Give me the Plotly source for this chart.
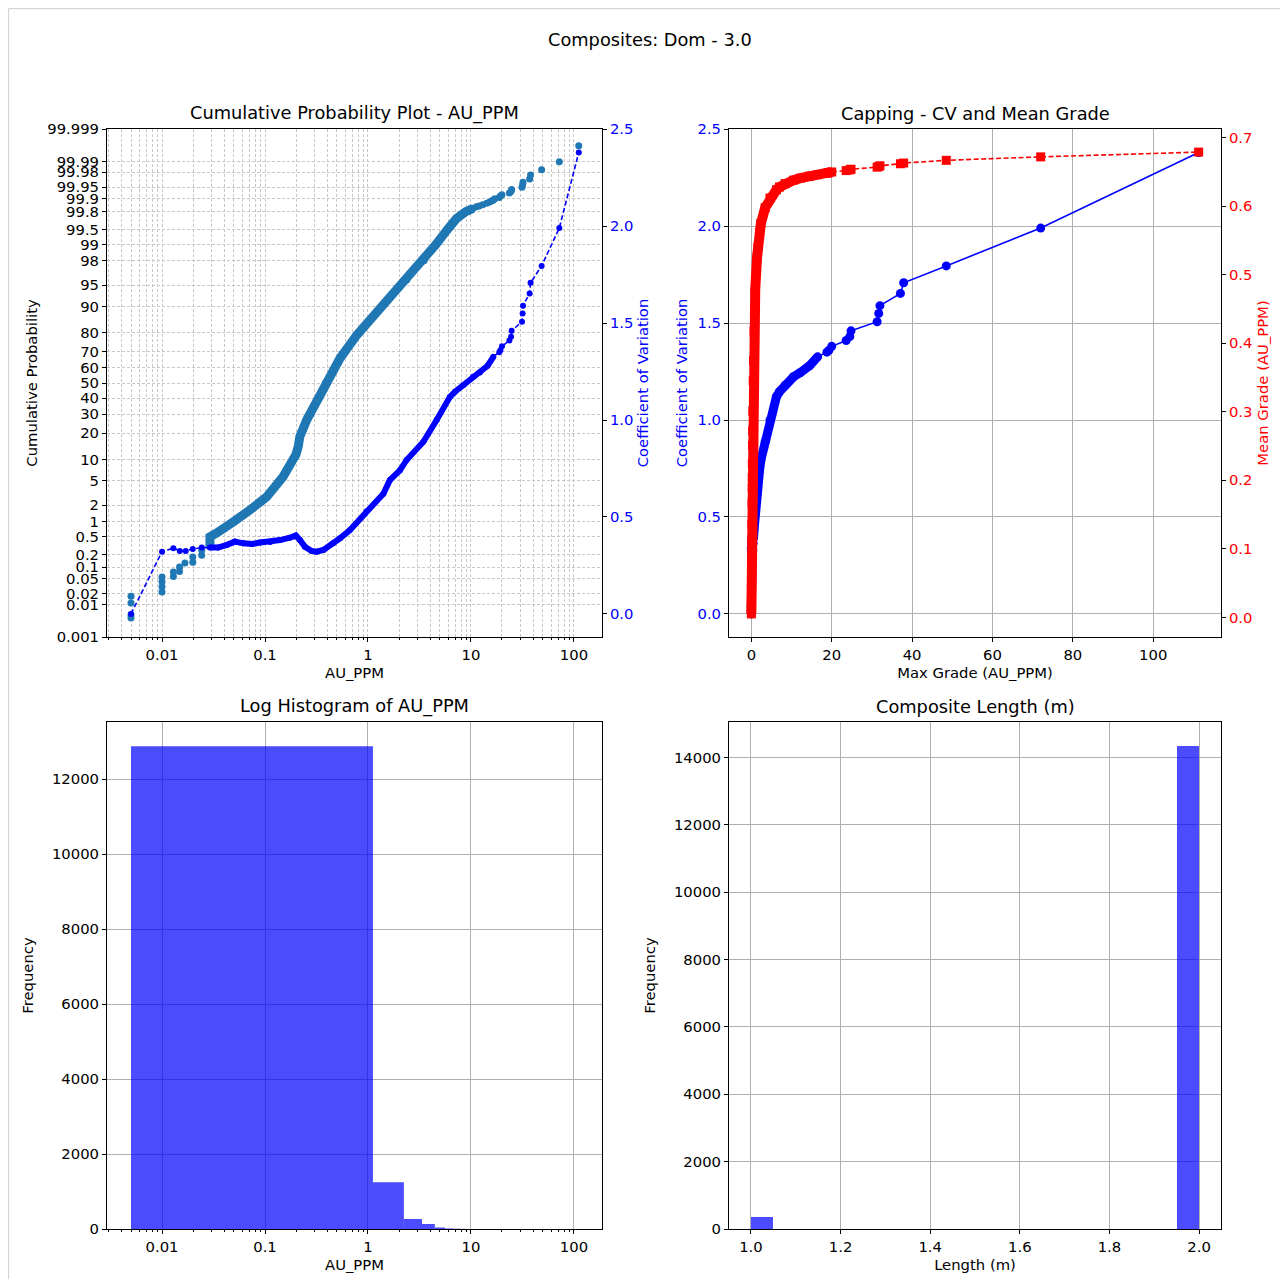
import plotly.graph_objects as go
from statistics import NormalDist

# ---------------- data ----------------
# Cumulative probability plot: sorted sample grade (AU_PPM) and cumulative probability (%)
prob_grade = [0.005, 0.005, 0.005, 0.005,
              0.01, 0.01, 0.01, 0.01,
              0.0129, 0.0129, 0.0148, 0.0148, 0.0167, 0.0199, 0.0199,
              0.0243, 0.0243, 0.0292, 0.0292, 0.0292,
              0.034, 0.040, 0.049, 0.0715, 0.104, 0.15, 0.188, 0.2, 0.21, 0.218,
              0.254, 0.32, 0.386, 0.535, 0.78, 1.127, 1.25, 2.04, 2.37, 3.5, 4.0,
              4.57, 5.9, 6.25, 7.26, 8.9, 10.5, 11.3, 12.0, 13.0, 14.2, 15.2, 16.0,
              16.5, 17.0, 18.8, 19.3, 20.0, 23.6, 24.5, 24.8, 31.3, 31.7, 32.0,
              37.1, 37.9, 48.5, 72.0, 111.3]
prob_cum_pct = [0.004, 0.005, 0.011, 0.017,
                0.0225, 0.031, 0.042, 0.056,
                0.058, 0.075, 0.078, 0.100, 0.126, 0.13, 0.175,
                0.19, 0.25, 0.30, 0.39, 0.49,
                0.59, 0.71, 0.98, 1.65, 2.81, 5.8, 9.8, 11.5, 14.2, 18.4,
                26.7, 38.8, 50.0, 66.1, 79.0, 86.7, 88.7, 95.0, 95.8, 98.0, 98.62,
                99.0, 99.5, 99.566, 99.715, 99.8, 99.832, 99.845, 99.853, 99.862, 99.872, 99.882, 99.889,
                99.8946, 99.9014, 99.9082, 99.915, 99.9218, 99.9286, 99.9354, 99.9422, 99.949, 99.9558, 99.9626,
                99.9694, 99.9762, 99.983, 99.9898, 99.9966]

# Capping analysis: cap grade, coefficient of variation, mean grade after capping
cap_grade = [0.005, 0.01, 0.0129, 0.0149, 0.017, 0.0199, 0.0243, 0.0292, 0.0351, 0.0426,
             0.051, 0.0617, 0.0747, 0.0896, 0.1125, 0.14, 0.174, 0.199, 0.218, 0.244,
             0.283, 0.317, 0.369, 0.46, 0.535, 0.668, 0.97, 1.41, 1.63, 2.04,
             2.37, 3.45, 4.64, 6.25, 7.0, 8.4, 10.5, 12.2, 14.5, 16.5,
             18.8, 19.3, 20.0, 23.6, 24.5, 24.8, 31.3, 31.7, 32.0, 37.1,
             37.9, 48.5, 72.0, 111.3]
cap_cv = [0.0, 0.321, 0.339, 0.325, 0.325, 0.335, 0.342, 0.342, 0.342, 0.356,
          0.373, 0.364, 0.361, 0.368, 0.371, 0.381, 0.393, 0.404, 0.381, 0.347,
          0.325, 0.321, 0.33, 0.364, 0.39, 0.433, 0.53, 0.62, 0.69, 0.74,
          0.794, 0.888, 1.0, 1.12, 1.146, 1.18, 1.223, 1.245, 1.28, 1.326,
          1.35, 1.36, 1.38, 1.41, 1.43, 1.46, 1.507, 1.55, 1.59, 1.653,
          1.708, 1.795, 1.99, 2.38]
cap_mean = [0.005, 0.01, 0.0129, 0.0149, 0.017, 0.0199, 0.0243, 0.029, 0.035, 0.0425,
            0.0508, 0.0613, 0.074, 0.0885, 0.11, 0.136, 0.167, 0.189, 0.204, 0.224,
            0.251, 0.272, 0.301, 0.345, 0.375, 0.418, 0.478, 0.525, 0.54, 0.562,
            0.575, 0.598, 0.612, 0.624, 0.628, 0.633, 0.638, 0.641, 0.644, 0.646,
            0.648, 0.649, 0.650, 0.652, 0.653, 0.654, 0.657, 0.658, 0.659, 0.662,
            0.663, 0.667, 0.672, 0.679]

# Log histogram of AU_PPM (visible bins)
loghist_edges = [0.005, 1.118, 2.231, 3.344, 4.457, 5.57, 6.683, 7.796, 8.909]
loghist_counts = [12880, 1245, 267, 133, 40, 15, 8, 5]

# Composite length histogram (non-empty bins)
len_bin_left = [1.00, 1.95]
len_bin_width = 0.05
len_counts = [365, 14335]

# probability axis ticks
prob_ticks = [0.001, 0.01, 0.02, 0.05, 0.1, 0.2, 0.5, 1, 2, 5, 10, 20, 30, 40, 50,
              60, 70, 80, 90, 95, 98, 99, 99.5, 99.8, 99.9, 99.95, 99.98, 99.99, 99.999]
prob_tick_text = ["0.001", "0.01", "0.02", "0.05", "0.1", "0.2", "0.5", "1", "2", "5", "10",
                  "20", "30", "40", "50", "60", "70", "80", "90", "95", "98", "99", "99.5",
                  "99.8", "99.9", "99.95", "99.98", "99.99", "99.999"]

# ---------------- figure ----------------
# page body has an 8px margin: the figure starts at screen (8, 8)
OFF = 8
W, H = 1272, 1271
nd = NormalDist()


def probit(pct):
    return nd.inv_cdf(pct / 100.0)


def fx(p):
    return (p - OFF) / W


def fy(p):
    return 1 - (p - OFF) / H


FONT = "DejaVu Sans"
TICK = 14.8
TITLE = 17.8
SCAT = "#1f77b4"
BAR = "rgba(0,0,255,0.7)"
DASHGRID = "3px,2px"

fig = go.Figure()

# ---- top-left: cumulative probability plot ----
dense = [(g, p) for g, p in zip(prob_grade, prob_cum_pct) if 0.029 <= g <= 10.5]
fig.add_trace(go.Scatter(x=[d[0] for d in dense], y=[probit(d[1]) for d in dense],
                         mode="lines", line=dict(color=SCAT, width=9),
                         xaxis="x", yaxis="y", showlegend=False, hoverinfo="skip"))
fig.add_trace(go.Scatter(x=prob_grade, y=[probit(p) for p in prob_cum_pct],
                         mode="markers", marker=dict(color=SCAT, size=7),
                         xaxis="x", yaxis="y", showlegend=False))

cv_dense = [(g, c) for g, c in zip(cap_grade, cap_cv) if 0.029 <= g <= 17]
fig.add_trace(go.Scatter(x=[d[0] for d in cv_dense], y=[d[1] for d in cv_dense],
                         mode="lines", line=dict(color="blue", width=6),
                         xaxis="x", yaxis="y2", showlegend=False, hoverinfo="skip"))
fig.add_trace(go.Scatter(x=cap_grade, y=cap_cv, mode="lines+markers",
                         line=dict(color="blue", width=1.6, dash="5px,2.5px"),
                         marker=dict(color="blue", size=6),
                         xaxis="x", yaxis="y2", showlegend=False))

# ---- top-right: capping ----
cv_tr_dense = [(g, c) for g, c in zip(cap_grade, cap_cv) if g <= 17]
fig.add_trace(go.Scatter(x=[d[0] for d in cv_tr_dense], y=[d[1] for d in cv_tr_dense],
                         mode="lines", line=dict(color="blue", width=9),
                         xaxis="x2", yaxis="y3", showlegend=False, hoverinfo="skip"))
fig.add_trace(go.Scatter(x=cap_grade, y=cap_cv, mode="lines+markers",
                         line=dict(color="blue", width=1.6),
                         marker=dict(color="blue", size=9),
                         xaxis="x2", yaxis="y3", showlegend=False))
mg_dense = [(g, m) for g, m in zip(cap_grade, cap_mean) if g <= 20]
fig.add_trace(go.Scatter(x=[d[0] for d in mg_dense], y=[d[1] for d in mg_dense],
                         mode="lines", line=dict(color="red", width=10),
                         xaxis="x2", yaxis="y4", showlegend=False, hoverinfo="skip"))
fig.add_trace(go.Scatter(x=cap_grade, y=cap_mean, mode="lines+markers",
                         line=dict(color="red", width=1.6, dash="5px,2.5px"),
                         marker=dict(color="red", size=9, symbol="square"),
                         xaxis="x2", yaxis="y4", showlegend=False))

# ---- bottom-left: log histogram (bars drawn as filled rectangles on log axis) ----
for i, c in enumerate(loghist_counts):
    l, r = loghist_edges[i], loghist_edges[i + 1]
    fig.add_trace(go.Scatter(x=[l, l, r, r, l], y=[0, c, c, 0, 0], mode="lines",
                             fill="toself", fillcolor=BAR, line=dict(width=0, color=BAR),
                             xaxis="x3", yaxis="y5", showlegend=False))

# ---- bottom-right: composite length histogram ----
fig.add_trace(go.Bar(x=len_bin_left, y=len_counts, width=len_bin_width, offset=0,
                     marker=dict(color=BAR, line=dict(width=0)),
                     xaxis="x4", yaxis="y6", showlegend=False))

# ---------------- axes ----------------
L_dom = [fx(107), fx(602)]
R_dom = [fx(729), fx(1221)]
T_dom = [fy(637), fy(129)]
B_dom = [fy(1229), fy(722)]

common = dict(showline=True, linecolor="black", linewidth=1, mirror=True,
              ticks="outside", ticklen=4, tickcolor="black", zeroline=False,
              tickfont=dict(family=FONT, size=TICK, color="black"), automargin=False)


def minor_log(lo, hi):
    vals = []
    for d in range(-3, 3):
        for m in range(2, 10):
            v = m * 10 ** d
            if lo <= v <= hi:
                vals.append(v)
    return vals


dec_vals = [0.01, 0.1, 1, 10, 100]
dec_text = ["0.01", "0.1", "1", "10", "100"]
minor_vals = minor_log(0.0029, 187)
cv_ticks = [0, 0.5, 1.0, 1.5, 2.0, 2.5]
cv_text = ["0.0", "0.5", "1.0", "1.5", "2.0", "2.5"]
f5 = [0, 2000, 4000, 6000, 8000, 10000, 12000]
f6 = [0, 2000, 4000, 6000, 8000, 10000, 12000, 14000]
LBL = dict(family=FONT, size=TICK, color="black")

fig.update_layout(
    width=W, height=H, margin=dict(l=0, r=0, t=0, b=0),
    paper_bgcolor="white", plot_bgcolor="white",
    font=dict(family=FONT, size=TICK, color="black"),
    xaxis=dict(common, type="log", domain=L_dom, anchor="y", range=[-2.534, 2.272],
               tickmode="array", tickvals=dec_vals, ticktext=dec_text,
               showgrid=True, gridcolor="#c8c8c8", griddash=DASHGRID, gridwidth=0.8,
               minor=dict(tickmode="array", tickvals=minor_vals, ticks="outside", ticklen=2,
                          tickcolor="black", showgrid=True, gridcolor="#c8c8c8",
                          griddash=DASHGRID, gridwidth=0.8),
               title=dict(text="AU_PPM", font=LBL, standoff=5)),
    yaxis=dict(common, domain=T_dom, anchor="x", range=[probit(0.001), probit(99.999)],
               tickmode="array", tickvals=[probit(p) for p in prob_ticks], ticktext=prob_tick_text,
               showgrid=True, gridcolor="#c8c8c8", griddash=DASHGRID, gridwidth=0.8,
               title=dict(text="Cumulative Probability", font=LBL, standoff=6)),
    yaxis2=dict(common, overlaying="y", side="right", anchor="x", range=[-0.119, 2.501],
                mirror=False, tickmode="array", tickvals=cv_ticks, ticktext=cv_text,
                tickfont=dict(family=FONT, size=TICK, color="blue"), showgrid=False,
                title=dict(text="Coefficient of Variation", font=dict(family=FONT, size=TICK, color="blue"),
                           standoff=4)),
    xaxis2=dict(common, domain=R_dom, anchor="y3", range=[-5.56, 116.86],
                tickmode="array", tickvals=[0, 20, 40, 60, 80, 100],
                showgrid=True, gridcolor="#b0b0b0", gridwidth=0.8,
                title=dict(text="Max Grade (AU_PPM)", font=LBL, standoff=5)),
    yaxis3=dict(common, domain=T_dom, anchor="x2", range=[-0.119, 2.501], mirror=False,
                tickmode="array", tickvals=cv_ticks, ticktext=cv_text,
                tickfont=dict(family=FONT, size=TICK, color="blue"),
                showgrid=True, gridcolor="#b0b0b0", gridwidth=0.8,
                title=dict(text="Coefficient of Variation", font=dict(family=FONT, size=TICK, color="blue"),
                           standoff=6)),
    yaxis4=dict(common, overlaying="y3", side="right", anchor="x2", range=[-0.0287, 0.7127],
                mirror=False,
                tickmode="array", tickvals=[0, 0.1, 0.2, 0.3, 0.4, 0.5, 0.6, 0.7],
                ticktext=["0.0", "0.1", "0.2", "0.3", "0.4", "0.5", "0.6", "0.7"],
                tickfont=dict(family=FONT, size=TICK, color="red"), showgrid=False,
                title=dict(text="Mean Grade (AU_PPM)", font=dict(family=FONT, size=TICK, color="red"),
                           standoff=6)),
    xaxis3=dict(common, type="log", domain=L_dom, anchor="y5", range=[-2.534, 2.272],
                tickmode="array", tickvals=dec_vals, ticktext=dec_text,
                showgrid=True, gridcolor="#b0b0b0", gridwidth=0.8,
                minor=dict(tickmode="array", tickvals=minor_vals, ticks="outside", ticklen=2,
                           tickcolor="black", showgrid=False),
                title=dict(text="AU_PPM", font=LBL, standoff=5)),
    yaxis5=dict(common, domain=B_dom, anchor="x3", range=[0, 13524],
                tickmode="array", tickvals=f5, ticktext=[str(v) for v in f5],
                showgrid=True, gridcolor="#b0b0b0", gridwidth=0.8,
                title=dict(text="Frequency", font=LBL, standoff=14)),
    xaxis4=dict(common, domain=R_dom, anchor="y6", range=[0.951, 2.049],
                tickmode="array", tickvals=[1.0, 1.2, 1.4, 1.6, 1.8, 2.0],
                ticktext=["1.0", "1.2", "1.4", "1.6", "1.8", "2.0"],
                showgrid=True, gridcolor="#b0b0b0", gridwidth=0.8,
                title=dict(text="Length (m)", font=LBL, standoff=5)),
    yaxis6=dict(common, domain=B_dom, anchor="x4", range=[0, 15052],
                tickmode="array", tickvals=f6, ticktext=[str(v) for v in f6],
                showgrid=True, gridcolor="#b0b0b0", gridwidth=0.8,
                title=dict(text="Frequency", font=LBL, standoff=14)),
    bargap=0,
)

# titles
ann = [
    ("Composites: Dom - 3.0", 650, 40),
    ("Cumulative Probability Plot - AU_PPM", 354.5, 113),
    ("Capping - CV and Mean Grade", 975, 113),
    ("Log Histogram of AU_PPM", 354.5, 706),
    ("Composite Length (m)", 975, 706),
]
for text, x, y in ann:
    fig.add_annotation(text=text, x=fx(x), y=fy(y), xref="paper", yref="paper",
                       showarrow=False, xanchor="center", yanchor="middle",
                       font=dict(family=FONT, size=TITLE, color="black"))

# output frame lines (as in the notebook screenshot)
fig.add_shape(type="line", xref="paper", yref="paper", x0=0.0005, x1=1, y0=0.9995, y1=0.9995,
              line=dict(color="#cfcfcf", width=1))
fig.add_shape(type="line", xref="paper", yref="paper", x0=0.0005, x1=0.0005, y0=0, y1=0.9995,
              line=dict(color="#cfcfcf", width=1))

fig.write_html("out.html")
